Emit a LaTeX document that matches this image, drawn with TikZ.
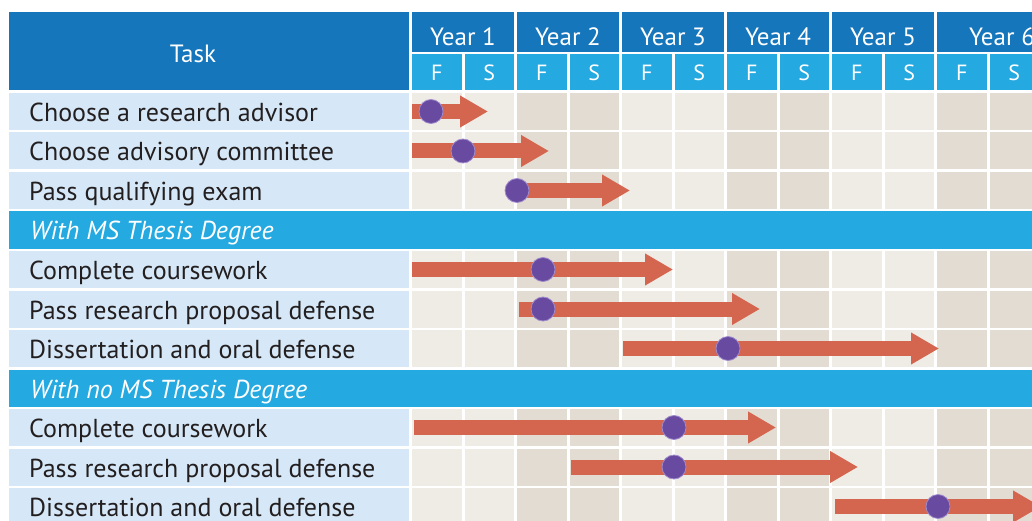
\documentclass[tikz,border=0pt]{standalone}
\usepackage{fontspec}
\setmainfont{PT Sans}
\usetikzlibrary{arrows.meta}
\definecolor{hdrdark}{RGB}{21,118,188}
\definecolor{hdrlight}{RGB}{36,169,224}
\definecolor{taskbg}{RGB}{214,232,247}
\definecolor{gridlight}{RGB}{239,235,229}
\definecolor{griddark}{RGB}{226,220,210}
\definecolor{barred}{RGB}{212,101,79}
\definecolor{dotpurple}{RGB}{104,74,160}
\definecolor{dotrim}{RGB}{160,140,205}
\definecolor{inkgray}{RGB}{35,31,32}
\begin{document}
\begin{tikzpicture}
[x=1pt,y=-1pt,
 every node/.style={inner sep=0pt},
 headtext/.style={text=white,font=\fontsize{25}{29}\selectfont},
 semtext/.style={text=white,font=\fontsize{22}{26}\selectfont},
 tasktext/.style={anchor=base west,text=inkgray,font=\fontsize{26}{30}\selectfont},
 grouptext/.style={anchor=base west,text=white,font=\fontsize{26}{30}\selectfont\itshape},
 bar/.style={draw=barred,line width=15pt,-{Triangle[length=28pt,width=30pt]}},
 dot/.style={circle,fill=dotpurple,draw=dotrim,line width=0.8pt,minimum size=24pt}]
\useasboundingbox (0,0) rectangle (1032,521);
\clip (0,0) rectangle (1032,521);
\fill[white] (0,0) rectangle (1032,521);
% header
\fill[hdrdark] (9,12) rectangle (409,90);
\node[headtext,anchor=base] (task) at (193,62.5) {Task};
\foreach \n/\mid in {1/463,2/568,3/673,4/778,5/883,6/1002} {
  \pgfmathsetmacro\xl{412+105*(\n-1)}
  \fill[hdrdark] (\xl,12) rectangle ++(102,40);
  \node[headtext,anchor=base] (year\n) at (\mid,45.5) {Year \n};
  \fill[hdrlight] (\xl,54) rectangle ++(49.5,36);
  \fill[hdrlight] (\xl+52.5,54) rectangle ++(49.5,36);
  \node[semtext,anchor=base] (fall\n) at (\xl+24.75,81) {F};
  \node[semtext,anchor=base] (spring\n) at (\xl+77.25,81) {S};
}
% task rows
\foreach \r/\txt in {0/Choose a research advisor,1/Choose advisory committee,
    2/Pass qualifying exam,4/Complete coursework,5/Pass research proposal defense,
    6/Dissertation and oral defense,8/Complete coursework,
    9/Pass research proposal defense,10/Dissertation and oral defense} {
  \pgfmathsetmacro\yt{93+39.5*\r}
  \fill[taskbg] (9,\yt) rectangle (409,\yt+37);
  \node[tasktext] (task\r) at (29,\yt+28.5) {\txt};
  \foreach \k in {0,...,11} {
    \pgfmathtruncatemacro\yr{div(\k,2)}
    \ifodd\yr\def\shade{griddark}\else\def\shade{gridlight}\fi
    \fill[\shade] (412+52.5*\k,\yt) rectangle ++(49.5,37);
  }
}
% group rows
\foreach \r/\txt in {3/With MS Thesis Degree,7/With no MS Thesis Degree} {
  \pgfmathsetmacro\yt{93+39.5*\r}
  \fill[hdrlight] (9,\yt) rectangle (1032,\yt+37);
  \node[grouptext] (group\r) at (30,\yt+28.5) {\txt};
}
% bars and milestones
\foreach \r/\from/\at/\to in {0/412/431/488,1/412/463/549,2/518/517/630,
    4/412/543/673,5/519/543/760,6/623/728/939,
    8/414/674/776,9/571/674/858,10/835/938/1041} {
  \pgfmathsetmacro\yc{93+39.5*\r+18.5}
  \coordinate (start\r) at (\from,\yc);
  \coordinate (end\r) at (\to,\yc);
  \draw[bar] (start\r) -- (end\r);
  \node[dot] (mile\r) at (\at,\yc) {};
}
\end{tikzpicture}
\end{document}
